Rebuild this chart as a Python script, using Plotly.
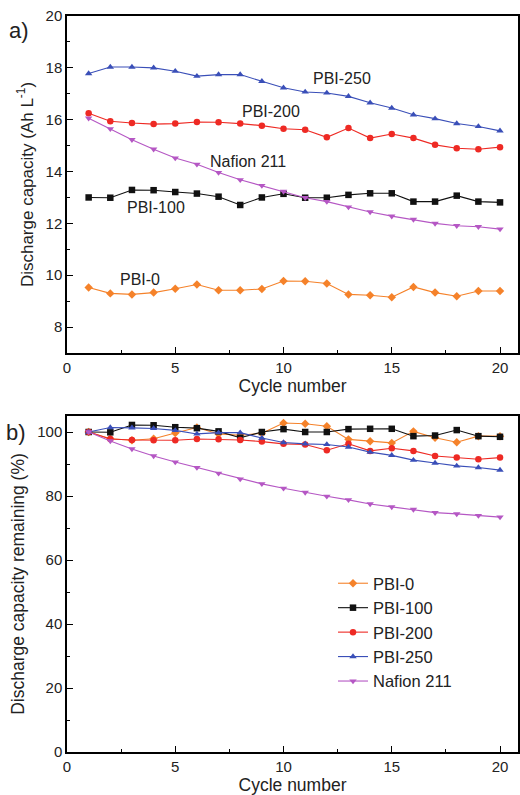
import plotly.graph_objects as go

cycles = list(range(1, 21))

# Panel a) discharge capacity (Ah L-1)
cap_pbi0 = [9.53, 9.30, 9.26, 9.33, 9.48, 9.64, 9.42, 9.42, 9.47, 9.78,
            9.77, 9.68, 9.26, 9.23, 9.15, 9.55, 9.33, 9.19, 9.39, 9.39]
cap_pbi100 = [13.0, 12.99, 13.29, 13.28, 13.21, 13.15, 13.03, 12.71, 13.0, 13.14,
              12.99, 12.99, 13.10, 13.16, 13.16, 12.84, 12.84, 13.07, 12.84, 12.81]
cap_pbi200 = [16.25, 15.94, 15.87, 15.83, 15.85, 15.91, 15.90, 15.85, 15.77, 15.65,
              15.61, 15.32, 15.68, 15.29, 15.45, 15.29, 15.03, 14.90, 14.86, 14.94]
cap_pbi250 = [17.78, 18.03, 18.03, 18.0, 17.87, 17.68, 17.74, 17.74, 17.48, 17.23,
              17.07, 17.03, 16.90, 16.65, 16.45, 16.19, 16.04, 15.85, 15.74, 15.57]
cap_nafion = [16.06, 15.65, 15.23, 14.86, 14.52, 14.28, 13.96, 13.68, 13.46, 13.23,
              12.99, 12.84, 12.63, 12.44, 12.28, 12.15, 12.0, 11.91, 11.87, 11.78]

# Panel b) discharge capacity remaining (%)
rem_pbi0 = [100, 97.9, 97.4, 97.9, 99.7, 101.4, 99.4, 99.0, 99.6, 102.8,
            102.6, 101.8, 97.7, 97.1, 96.6, 100.2, 98.2, 96.8, 98.7, 98.7]
rem_pbi100 = [100, 99.9, 102.2, 102.1, 101.5, 101.2, 100.2, 98.2, 100.0, 100.9,
              100.0, 100.0, 100.9, 101.0, 101.0, 98.7, 98.9, 100.6, 98.7, 98.5]
rem_pbi200 = [100, 97.8, 97.5, 97.4, 97.4, 97.8, 97.7, 97.5, 97.0, 96.3,
              96.1, 94.3, 96.3, 94.1, 94.9, 94.1, 92.5, 92.0, 91.5, 92.0]
rem_pbi250 = [100, 101.4, 101.3, 101.1, 100.5, 99.4, 99.8, 99.8, 98.1, 96.7,
              96.3, 96.1, 95.3, 93.7, 92.7, 91.2, 90.3, 89.4, 88.9, 88.1]
rem_nafion = [100, 97.2, 94.7, 92.5, 90.6, 88.9, 87.1, 85.3, 83.8, 82.4,
              81.1, 79.9, 78.8, 77.5, 76.6, 75.8, 74.8, 74.4, 73.9, 73.4]

names = ["PBI-0", "PBI-100", "PBI-200", "PBI-250", "Nafion 211"]
colors = ["#F5822A", "#111111", "#EE2A24", "#3A4FB8", "#B557C4"]
symbols = ["diamond", "square", "circle", "triangle-up", "triangle-down"]
caps = [cap_pbi0, cap_pbi100, cap_pbi200, cap_pbi250, cap_nafion]
rems = [rem_pbi0, rem_pbi100, rem_pbi200, rem_pbi250, rem_nafion]

FONT = "Liberation Sans, Arial, sans-serif"

fig = go.Figure()
for n, c, s, y in zip(names, colors, symbols, caps):
    fig.add_trace(go.Scatter(x=cycles, y=y, mode="lines+markers", name=n,
                             line=dict(color=c, width=1.1),
                             marker=dict(symbol=s, size=6.5, color=c),
                             showlegend=False, xaxis="x", yaxis="y"))
for n, c, s, y in zip(names, colors, symbols, rems):
    fig.add_trace(go.Scatter(x=cycles, y=y, mode="lines+markers", name=n,
                             line=dict(color=c, width=1.1),
                             marker=dict(symbol=s, size=6.5, color=c),
                             showlegend=True, xaxis="x2", yaxis="y2"))

xd = [67 / 520, 518 / 520]
common_x = dict(range=[0, 20.83], tickvals=[0, 5, 10, 15, 20], ticks="inside",
                ticklen=6, tickwidth=1.2, tickcolor="black",
                minor=dict(tickvals=[2.5, 7.5, 12.5, 17.5], ticks="inside", ticklen=3,
                           tickcolor="black"),
                showline=True, linecolor="black", linewidth=1.5, mirror=True,
                showgrid=False, zeroline=False, domain=xd, automargin=False,
                tickfont=dict(size=15, color="#222"),
                title=dict(text="Cycle number", font=dict(size=17.5, color="#222"), standoff=3))
common_y = dict(ticks="inside", ticklen=6, tickwidth=1.2, tickcolor="black",
                showline=True, linecolor="black", linewidth=1.5, mirror=True,
                showgrid=False, zeroline=False, automargin=False,
                tickfont=dict(size=15, color="#222"))

fig.update_layout(
    width=520, height=795, margin=dict(l=0, r=0, t=0, b=0),
    paper_bgcolor="white", plot_bgcolor="white",
    font=dict(family=FONT, color="#222"),
    xaxis=dict(common_x, anchor="y"),
    yaxis=dict(common_y, range=[7, 20], tickvals=[8, 10, 12, 14, 16, 18, 20],
               minor=dict(tickvals=[9, 11, 13, 15, 17, 19], ticks="inside", ticklen=3,
                          tickcolor="black"),
               domain=[(795 - 353) / 795, (795 - 16) / 795], anchor="x",
               title=dict(text="Discharge capacity (Ah L<sup>-1</sup>)",
                          font=dict(size=17, color="#222"), standoff=8)),
    xaxis2=dict(common_x, anchor="y2"),
    yaxis2=dict(common_y, range=[0, 105], tickvals=[0, 20, 40, 60, 80, 100],
                minor=dict(tickvals=[10, 30, 50, 70, 90], ticks="inside", ticklen=3,
                           tickcolor="black"),
                domain=[(795 - 752) / 795, (795 - 416) / 795], anchor="x2",
                title=dict(text="Discharge capacity remaining (%)",
                           font=dict(size=17.5, color="#222"), standoff=8)),
    legend=dict(x=333 / 520, y=(795 - 566) / 795, xanchor="left", yanchor="top",
                bgcolor="rgba(0,0,0,0)", font=dict(size=16.5, color="#222"),
                tracegroupgap=0, itemwidth=30),
)

labels = [("PBI-250", 12.7, 17.6), ("PBI-200", 9.4, 16.3), ("Nafion 211", 8.36, 14.38),
          ("PBI-100", 4.1, 12.6), ("PBI-0", 3.37, 9.85)]
for t, x, y in labels:
    fig.add_annotation(text=t, x=x, y=y, xref="x", yref="y", showarrow=False,
                       font=dict(size=16, color="#222"))

fig.add_annotation(text="a)", x=19 / 520, y=(795 - 31) / 795, xref="paper", yref="paper",
                   xanchor="center", yanchor="middle",
                   showarrow=False, font=dict(size=22, color="#222"))
fig.add_annotation(text="b)", x=16 / 520, y=(795 - 432) / 795, xref="paper", yref="paper",
                   xanchor="center", yanchor="middle",
                   showarrow=False, font=dict(size=22, color="#222"))

fig.write_html("out.html")
